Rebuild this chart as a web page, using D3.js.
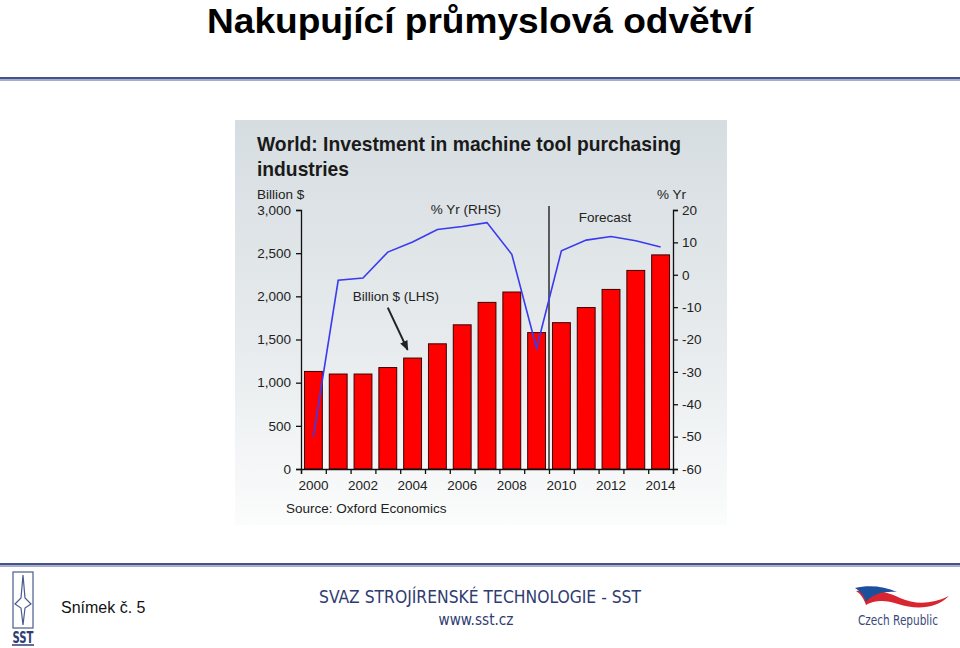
<!DOCTYPE html>
<html>
<head>
<meta charset="utf-8">
<script src="https://cdn.jsdelivr.net/npm/d3@7"></script>
<style>
  body { margin: 0; background: #fff; }
  svg { display: block; }
  .axis path, .axis line { stroke: #111; stroke-width: 1.3px; }
  .axis text { font-family: "Liberation Sans", Arial, sans-serif; font-size: 13.5px; fill: #222; }
  .lbl { font-family: "Liberation Sans", Arial, sans-serif; font-size: 13.5px; fill: #222; }
</style>
</head>
<body>
<div id="chart"></div>
<script>
// data
var years = [2000, 2001, 2002, 2003, 2004, 2005, 2006, 2007, 2008, 2009, 2010, 2011, 2012, 2013, 2014];
var investment = [1130, 1100, 1100, 1175, 1285, 1450, 1670, 1930, 2050, 1580, 1695, 1870, 2080, 2300, 2480];
var pctYr = [-50, -1.7, -1.0, 7.0, 10.1, 14.0, 14.9, 16.1, 6.3, -22.7, 7.4, 10.7, 11.8, 10.5, 8.6];
var leftTicks = [0, 500, 1000, 1500, 2000, 2500, 3000];
var rightTicks = [-60, -50, -40, -30, -20, -10, 0, 10, 20];
var labelYears = [2000, 2002, 2004, 2006, 2008, 2010, 2012, 2014];

var W = 960, H = 648;
var svg = d3.select("#chart").append("svg")
  .attr("width", W).attr("height", H);

svg.append("rect").attr("width", W).attr("height", H).attr("fill", "#fff");

// slide title
svg.append("text")
  .attr("x", 480).attr("y", 33)
  .attr("text-anchor", "middle")
  .attr("textLength", 546).attr("lengthAdjust", "spacingAndGlyphs")
  .style("font", "bold 35px 'Liberation Sans Narrow', 'Arial Narrow', 'Liberation Sans', sans-serif")
  .text("Nakupující průmyslová odvětví");

// rules top and bottom
function rule(y) {
  svg.append("rect").attr("x", 0).attr("y", y).attr("width", W).attr("height", 2).attr("fill", "#46528a");
  svg.append("rect").attr("x", 0).attr("y", y + 2).attr("width", W).attr("height", 2).attr("fill", "#a6aecb");
}
rule(77);
rule(563);

// chart panel background
var defs = svg.append("defs");
var grad = defs.append("linearGradient").attr("id", "bg").attr("x1", 0).attr("y1", 0).attr("x2", 0).attr("y2", 1);
grad.append("stop").attr("offset", "0%").attr("stop-color", "#d6dde1");
grad.append("stop").attr("offset", "55%").attr("stop-color", "#e7ebed");
grad.append("stop").attr("offset", "100%").attr("stop-color", "#fbfcfc");
svg.append("rect")
  .attr("x", 235).attr("y", 120).attr("width", 492).attr("height", 405)
  .attr("fill", "url(#bg)");

// scales
var x = d3.scaleBand().domain(years).range([301, 673]).paddingInner(0.28).paddingOuter(0.14);
var xb = d3.scaleLinear().domain([1999.5, 2014.5]).range([301, 673]);
var yL = d3.scaleLinear().domain([0, 3000]).range([469, 210]);
var yR = d3.scaleLinear().domain([-60, 20]).range([469, 210]);

// chart title
svg.append("text")
  .attr("x", 257).attr("y", 151)
  .attr("textLength", 424).attr("lengthAdjust", "spacingAndGlyphs")
  .style("font", "bold 21px 'Liberation Sans', Arial, sans-serif").attr("fill", "#1a1a1a")
  .text("World: Investment in machine tool purchasing");
svg.append("text")
  .attr("x", 257).attr("y", 176)
  .attr("textLength", 92).attr("lengthAdjust", "spacingAndGlyphs")
  .style("font", "bold 21px 'Liberation Sans', Arial, sans-serif").attr("fill", "#1a1a1a")
  .text("industries");

svg.append("text").attr("class", "lbl").attr("x", 257).attr("y", 199).text("Billion $");
svg.append("text").attr("class", "lbl").attr("x", 686).attr("y", 199).attr("text-anchor", "end").text("% Yr");

// bars
svg.selectAll(".bar")
  .data(years)
  .enter().append("rect")
  .attr("class", "bar")
  .attr("x", function(d) { return x(d); })
  .attr("width", x.bandwidth())
  .attr("y", function(d, i) { return yL(investment[i]); })
  .attr("height", function(d, i) { return yL(0) - yL(investment[i]); })
  .attr("fill", "#ff0000")
  .attr("stroke", "#3a0000")
  .attr("stroke-width", 1);

// forecast divider
svg.append("line")
  .attr("x1", xb(2009.5)).attr("x2", xb(2009.5))
  .attr("y1", yR(21.2)).attr("y2", yR(-60))
  .attr("stroke", "#111").attr("stroke-width", 1.3);

// % yr line
var line = d3.line()
  .x(function(d, i) { return x(years[i]) + x.bandwidth() / 2; })
  .y(function(d) { return yR(d); });
svg.append("path")
  .datum(pctYr)
  .attr("d", line)
  .attr("fill", "none")
  .attr("stroke", "#3a3aee")
  .attr("stroke-width", 1.6);

// axes
svg.append("g").attr("class", "axis")
  .attr("transform", "translate(301,0)")
  .call(d3.axisLeft(yL).tickValues(leftTicks).tickFormat(d3.format(",")).tickSizeOuter(0).tickSize(5).tickPadding(5));

svg.append("g").attr("class", "axis")
  .attr("transform", "translate(673,0)")
  .call(d3.axisRight(yR).tickValues(rightTicks).tickFormat(function(d) { return d < 0 ? "-" + Math.abs(d) : d; })
    .tickSizeOuter(0).tickSize(5).tickPadding(4));

var xAxis = svg.append("g").attr("class", "axis")
  .attr("transform", "translate(0," + yL(0) + ")");
xAxis.call(d3.axisBottom(xb).tickValues(d3.range(1999.5, 2015, 1)).tickFormat("").tickSizeOuter(0).tickSize(5));
svg.append("g").attr("class", "axis")
  .attr("transform", "translate(0," + (yL(0) + 2) + ")")
  .call(d3.axisBottom(x).tickValues(labelYears).tickSize(0).tickPadding(9))
  .select(".domain").remove();

// annotations
svg.append("text").attr("class", "lbl").attr("text-anchor", "middle")
  .attr("x", xb(2006.15)).attr("y", yR(18.9)).text("% Yr (RHS)");
svg.append("text").attr("class", "lbl").attr("text-anchor", "middle")
  .attr("x", xb(2011.76)).attr("y", yR(16.2)).text("Forecast");
svg.append("text").attr("class", "lbl").attr("text-anchor", "middle")
  .attr("x", xb(2003.33)).attr("y", yL(1950)).text("Billion $ (LHS)");

defs.append("marker").attr("id", "arrow")
  .attr("viewBox", "0 0 10 10").attr("refX", 9).attr("refY", 5)
  .attr("markerWidth", 5).attr("markerHeight", 5).attr("orient", "auto")
  .append("path").attr("d", "M0,1 L10,5 L0,9 Z").attr("fill", "#222");
svg.append("line")
  .attr("x1", xb(2003.0)).attr("y1", yL(1870))
  .attr("x2", xb(2003.8)).attr("y2", yL(1380))
  .attr("stroke", "#222").attr("stroke-width", 2)
  .attr("marker-end", "url(#arrow)");

svg.append("text").attr("class", "lbl")
  .attr("x", 286).attr("y", 513).text("Source: Oxford Economics");

// footer
svg.append("text")
  .attr("x", 61).attr("y", 613)
  .style("font", "16px 'Liberation Sans', Arial, sans-serif").attr("fill", "#111")
  .text("Snímek č. 5");

svg.append("text")
  .attr("x", 480).attr("y", 603).attr("text-anchor", "middle")
  .attr("textLength", 322).attr("lengthAdjust", "spacingAndGlyphs")
  .style("font", "17px 'DejaVu Sans Condensed', 'DejaVu Sans', sans-serif").attr("fill", "#2f3c72")
  .text("SVAZ STROJÍRENSKÉ TECHNOLOGIE - SST");
svg.append("text")
  .attr("x", 476).attr("y", 625).attr("text-anchor", "middle")
  .attr("textLength", 75).attr("lengthAdjust", "spacingAndGlyphs")
  .style("font", "16px 'DejaVu Sans Condensed', 'DejaVu Sans', sans-serif").attr("fill", "#2f3c72")
  .text("www.sst.cz");

// SST logo (left)
var logo = svg.append("g").attr("fill", "none").attr("stroke", "#4a5a8e").attr("stroke-width", 1.2);
logo.append("rect").attr("x", 13).attr("y", 572).attr("width", 20).attr("height", 56);
logo.append("path").attr("d", "M23,575 L25,598 L31,604 L25,608 L23,625 L21,608 L15,604 L21,598 Z");
svg.append("text")
  .attr("x", 23).attr("y", 643).attr("text-anchor", "middle")
  .style("font", "bold 16px 'DejaVu Sans Condensed', sans-serif").attr("fill", "#2f3c72")
  .attr("textLength", 21).attr("lengthAdjust", "spacingAndGlyphs")
  .text("SST");
svg.append("line").attr("x1", 12).attr("x2", 34).attr("y1", 645).attr("y2", 645)
  .attr("stroke", "#2f3c72").attr("stroke-width", 1.5);

// Czech Republic logo (right)
svg.append("path")
  .attr("d", "M856,591 C872,588 888,592 900,598 C916,605 932,604 949,596 C936,609 916,610 898,604 C886,600 874,600 866,605 C864,599 861,594 856,591 Z")
  .attr("fill", "#d9252f");
svg.append("path")
  .attr("d", "M855,588 C868,585 884,586 897,592 C884,591 872,594 866,602 C864,595 860,591 855,588 Z")
  .attr("fill", "#1c4f9c");
svg.append("text")
  .attr("x", 898).attr("y", 625).attr("text-anchor", "middle")
  .attr("textLength", 80).attr("lengthAdjust", "spacingAndGlyphs")
  .style("font", "14px 'DejaVu Sans Condensed', 'DejaVu Sans', sans-serif").attr("fill", "#3a4a7a")
  .text("Czech Republic");
</script>
</body>
</html>
